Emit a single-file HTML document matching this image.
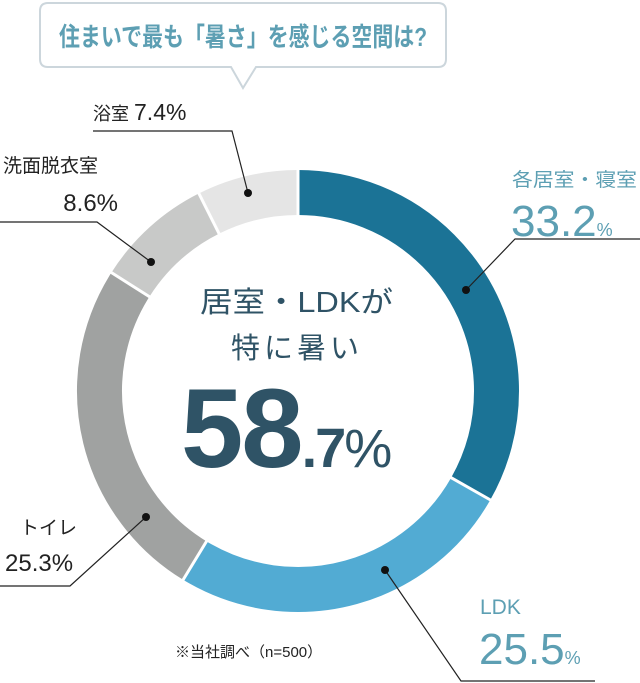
<!DOCTYPE html>
<html><head><meta charset="utf-8"><style>
html,body{margin:0;padding:0;background:#fff;}
svg{display:block;font-family:"Liberation Sans","Noto Sans CJK JP",sans-serif;}
</style></head><body>
<svg width="640" height="683" viewBox="0 0 640 683" xmlns="http://www.w3.org/2000/svg">
<path d="M48,3 H438 Q446,3 446,11 V59 Q446,67 438,67 H256 L243,88 L231,67 H48 Q40,67 40,59 V11 Q40,3 48,3 Z" fill="#fff" stroke="#ccd6dc" stroke-width="2"/>
<text x="243" y="46" text-anchor="middle" font-size="26" font-weight="bold" fill="#5d9fb3" textLength="368" lengthAdjust="spacingAndGlyphs">住まいで最も「暑さ」を感じる空間は?</text>

<g fill="none" stroke-width="45" transform="translate(298,391)">
<circle r="198.5" stroke="#1b7396" stroke-dasharray="414.1 833.1" transform="rotate(-90)"/>
<circle r="198.5" stroke="#52abd3" stroke-dasharray="318.0 929.2" transform="rotate(29.52)"/>
<circle r="198.5" stroke="#a0a2a1" stroke-dasharray="315.5 931.7" transform="rotate(121.32)"/>
<circle r="198.5" stroke="#c8c9c8" stroke-dasharray="107.3 1139.9" transform="rotate(212.4)"/>
<circle r="198.5" stroke="#e5e5e5" stroke-dasharray="92.3 1154.9" transform="rotate(243.36)"/>
</g>
<g stroke="#fff" stroke-width="3" transform="translate(298,391)">
<line x1="0" y1="-174" x2="0" y2="-223"/>
<line x1="0" y1="-174" x2="0" y2="-223" transform="rotate(119.52)"/>
<line x1="0" y1="-174" x2="0" y2="-223" transform="rotate(211.32)"/>
<line x1="0" y1="-174" x2="0" y2="-223" transform="rotate(302.4)"/>
<line x1="0" y1="-174" x2="0" y2="-223" transform="rotate(333.36)"/>
</g>

<g stroke="#222" stroke-width="1.2" fill="none">
<polyline points="466,290 515,239 640,239"/>
<polyline points="385,570 461,681 595,681"/>
<polyline points="146,517 70,586 0,586"/>
<polyline points="151,262 97,222 0,222"/>
<polyline points="248,193 232,131 93,131"/>
</g>
<g fill="#111">
<circle cx="466" cy="290" r="4"/>
<circle cx="385" cy="570" r="4"/>
<circle cx="146" cy="517" r="4"/>
<circle cx="151" cy="262" r="4"/>
<circle cx="248" cy="193" r="4"/>
</g>

<g fill="#2f5366">
<text x="200" y="312" font-size="29" textLength="193" lengthAdjust="spacingAndGlyphs">居室・LDKが</text>
<text x="297" y="358" font-size="29" text-anchor="middle" letter-spacing="4">特に暑い</text>
</g>
<text x="181" y="467" font-size="112" font-weight="bold" fill="#2f5366" letter-spacing="-2">58<tspan font-size="56">.7</tspan><tspan font-size="54" font-weight="normal">%</tspan></text>

<g fill="#222">
<text x="93" y="120" font-size="18">浴室 <tspan font-size="23">7.4%</tspan></text>
<text x="3" y="172" font-size="19">洗面脱衣室</text>
<text x="118" y="211" font-size="24" text-anchor="end">8.6%</text>
<text x="20" y="534" font-size="19">トイレ</text>
<text x="5" y="571" font-size="24">25.3%</text>
<text x="175" y="657" font-size="15">※当社調べ（n=500）</text>
</g>
<g fill="#5d9fb3">
<text x="512" y="186" font-size="19" textLength="125" lengthAdjust="spacingAndGlyphs">各居室・寝室</text>
<text x="511" y="236" font-size="44">33.2<tspan font-size="18">%</tspan></text>
<text x="480" y="614" font-size="21">LDK</text>
<text x="479" y="664" font-size="44">25.5<tspan font-size="18">%</tspan></text>
</g>
</svg>
</body></html>
